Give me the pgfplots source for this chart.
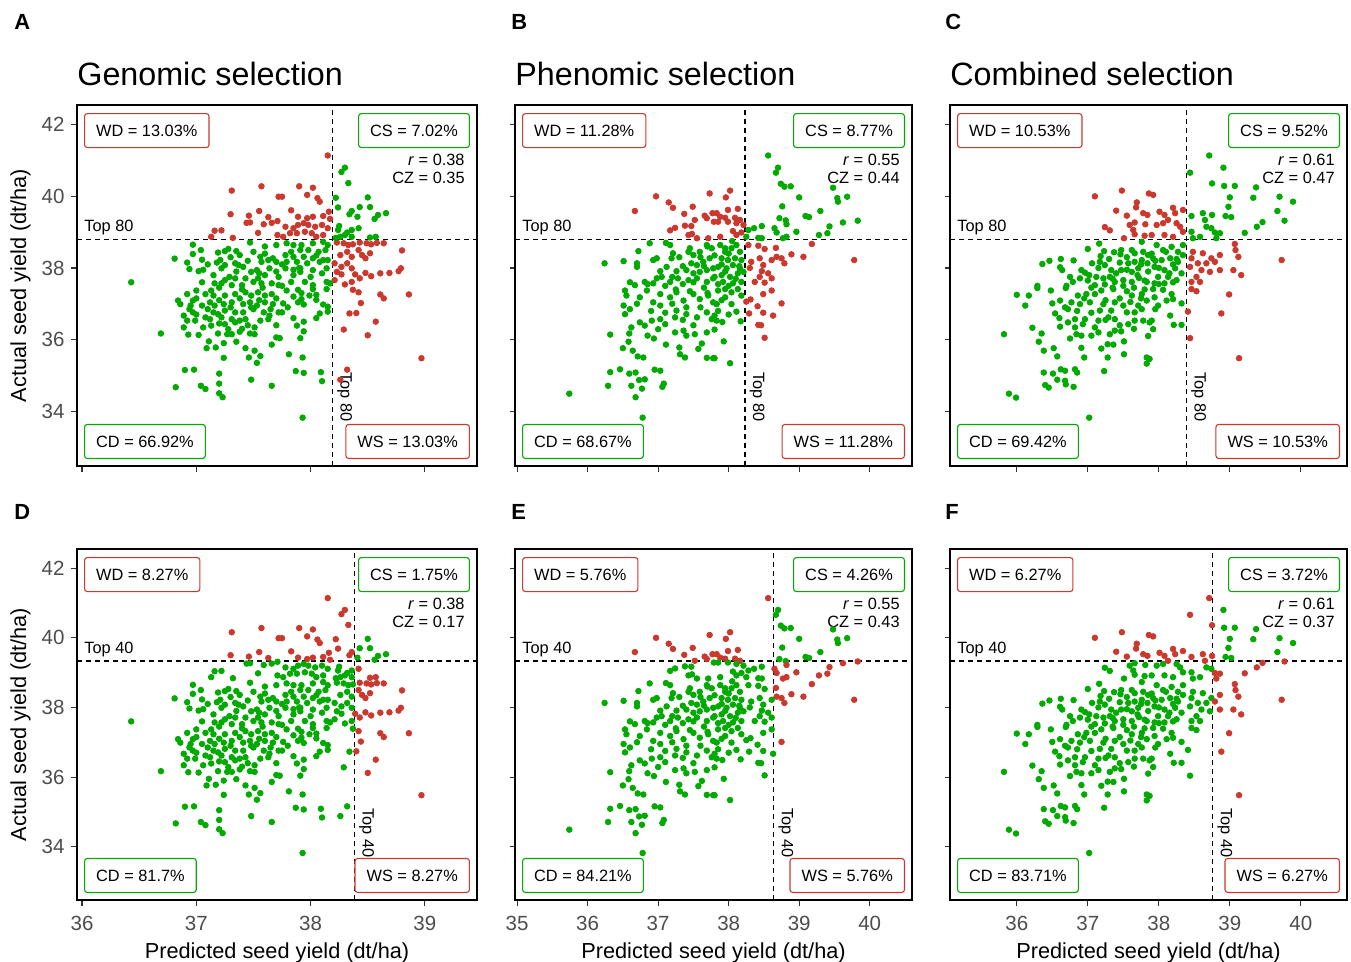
\documentclass[border=0pt]{standalone}
\usepackage{fontspec}
\setmainfont{Liberation Sans}
\usepackage{pgfplots}
\usepackage{pgfplotstable}
\pgfplotsset{compat=1.18}

\definecolor{ptgreen}{RGB}{0,170,0}
\definecolor{ptred}{RGB}{203,56,46}
\definecolor{ticklab}{RGB}{77,77,77}
\definecolor{tickcol}{RGB}{51,51,51}

\newcommand{\boxfont}{\fontsize{8.2}{9.8}\selectfont}

\tikzset{
  lbl/.style={font=\boxfont, fill=white, line width=0.55bp, rounded corners=1.4bp,
    inner xsep=5.8bp, minimum height=17bp},
}
\pgfplotsset{
  panel/.style={
    scale only axis, enlargelimits=false,
    ymin=32.47, ymax=42.55, ytick={34,36,38,40,42},
    anchor=north west,
    axis line style={black, line width=0.55bp},
    major tick style={tickcol, line width=0.55bp},
    tick align=outside, major tick length=2.75bp,
    xtick pos=left, ytick pos=left,
    tick label style={font=\fontsize{10.3}{12}\selectfont, text=ticklab},
    xticklabel style={yshift=-2bp},
    /pgf/number format/assume math mode=true,
    colormap={rg}{rgb255=(0,170,0) rgb255=(203,56,46)},
    point meta min=0, point meta max=1,
  },
  toprow/.style={height=180.5bp, xticklabels={}},
  botrow/.style={height=175.5bp},
  pts/.style 2 args={scatter, only marks, mark=*, mark size=1.4bp,
    point meta={(\thisrow{x}>#1)*(\thisrow{y}<#2)+(\thisrow{x}<#1)*(\thisrow{y}>#2)},
    scatter/use mapped color={draw=mapped color, fill=mapped color}},
  dashline/.style={black, line width=0.65bp, dash pattern=on 2.7bp off 1.8bp},
}

% #1 x threshold, #2 y threshold, #3 xmin, #4 xmax, #5 label
\newcommand{\thr}[5]{%
  \addplot[dashline] coordinates {(#1,32.47) (#1,42.55)};
  \addplot[dashline] coordinates {(#3,#2) (#4,#2)};
  \node[anchor=south west, font=\boxfont, inner xsep=3.5bp, inner ysep=2bp] at (axis cs:#3,#2) {#5};
  \node[rotate=-90, anchor=south, font=\boxfont, inner sep=2.2bp] at (axis cs:#1,34.40) {#5};
}
\newcommand{\boxes}[4]{%
  \node[lbl, draw=ptred, anchor=north west] at ([xshift=3.5bp,yshift=-4bp]rel axis cs:0,1) {WD = #1\%};
  \node[lbl, draw=ptgreen, anchor=north east] at ([xshift=-3.5bp,yshift=-4bp]rel axis cs:1,1) {CS = #2\%};
  \node[lbl, draw=ptgreen, anchor=south west] at ([xshift=3.5bp,yshift=3.5bp]rel axis cs:0,0) {CD = #3\%};
  \node[lbl, draw=ptred, anchor=south east] at ([xshift=-3.5bp,yshift=3.5bp]rel axis cs:1,0) {WS = #4\%};
}
\newcommand{\stats}[2]{%
  \node[anchor=east, font=\boxfont, inner sep=0pt] at ([xshift=-6bp,yshift=-27.5bp]rel axis cs:1,1) {\textit{r} = #1};
  \node[anchor=east, font=\boxfont, inner sep=0pt] at ([xshift=-6bp,yshift=-36.5bp]rel axis cs:1,1) {CZ = #2};
}

\pgfplotstableread{
x y
36.97 38.65
37.04 38.50
36.97 38.39
37.05 38.23
36.81 38.26
36.92 38.15
36.94 37.97
37.02 37.91
37.06 37.95
36.43 37.60
37.47 38.71
37.60 38.60
37.70 38.64
37.19 38.43
37.25 38.47
37.28 38.53
37.21 38.22
37.18 38.15
37.25 38.08
37.22 37.99
37.35 38.47
37.38 38.36
37.34 38.13
37.37 38.08
37.41 38.03
37.50 38.45
37.48 37.89
37.53 37.94
37.56 38.31
37.57 38.17
37.63 38.22
37.67 38.27
37.70 38.17
37.64 37.99
37.60 37.80
37.54 37.71
37.50 37.61
37.43 37.71
37.34 37.71
37.29 37.75
37.25 37.66
37.16 37.57
37.22 37.57
37.31 37.52
37.40 37.52
37.57 37.57
37.66 37.57
37.72 37.75
37.72 37.52
37.31 40.16
37.57 40.28
37.72 39.99
37.30 39.50
37.46 39.46
37.55 39.59
37.63 39.42
37.44 39.26
37.47 39.27
37.59 39.22
37.66 39.26
37.71 39.31
37.16 39.04
37.22 39.05
37.13 38.87
37.32 38.84
37.54 38.98
37.71 38.92
38.15 41.14
37.90 40.28
38.02 40.24
37.97 40.04
38.06 39.95
38.08 39.85
37.75 39.99
37.83 39.61
37.89 39.43
37.97 39.39
38.02 39.43
38.11 39.45
38.16 39.57
38.17 39.37
37.78 39.15
37.85 39.11
37.89 39.20
37.94 39.25
37.98 39.20
38.04 39.15
38.10 39.20
38.15 39.11
37.82 38.97
37.88 38.97
37.95 39.01
38.01 38.97
38.05 38.87
38.11 38.92
37.76 38.87
38.23 38.71
38.29 38.69
38.33 38.64
38.37 38.66
38.43 38.71
38.49 38.69
38.53 38.66
38.58 38.70
38.64 38.69
38.80 38.49
38.32 38.45
38.42 38.50
38.45 38.36
38.48 38.27
38.52 38.41
38.36 38.31
38.26 38.36
38.21 38.13
38.27 38.03
38.32 38.13
38.36 37.99
38.23 37.89
38.27 37.82
38.39 37.82
38.48 37.86
38.53 37.77
38.61 37.85
38.69 37.86
38.77 37.91
38.79 37.99
38.36 37.61
38.43 37.71
38.21 37.66
38.30 37.54
38.30 40.80
38.27 40.68
38.33 40.37
38.22 39.96
38.24 39.69
38.50 39.97
38.43 39.70
38.52 39.70
38.36 39.59
38.34 39.50
38.41 39.43
38.59 39.48
38.66 39.53
38.56 39.37
38.25 39.17
38.24 39.06
38.32 38.99
38.36 39.06
38.42 39.11
38.30 38.92
38.26 38.87
38.22 38.84
38.36 38.87
38.52 38.85
38.57 38.87
37.79 38.69
37.85 38.64
37.92 38.64
38.02 38.69
38.11 38.73
38.15 38.64
37.83 38.45
37.91 38.50
37.98 38.50
38.07 38.45
38.13 38.50
37.78 38.36
37.85 38.31
37.94 38.31
38.02 38.27
38.11 38.22
37.79 38.17
37.88 38.17
37.97 38.13
38.08 38.17
38.15 38.22
37.78 37.99
37.91 37.99
38.02 37.94
38.14 37.99
37.85 37.80
37.83 37.61
37.95 37.61
38.02 37.52
38.14 37.61
38.17 37.57
37.91 37.89
36.92 37.27
37.00 37.37
37.08 37.27
37.13 37.37
37.15 37.23
37.25 37.23
37.34 37.27
37.43 37.32
37.48 37.23
37.54 37.32
37.60 37.23
37.66 37.27
36.84 37.09
36.86 36.99
36.97 37.09
37.05 36.95
37.12 37.04
37.16 36.95
37.24 36.99
37.31 37.04
37.41 36.99
37.47 37.04
37.53 36.95
37.60 37.04
37.67 36.99
37.72 36.76
36.94 36.85
36.97 36.76
36.89 36.67
36.99 36.53
36.92 36.53
37.08 36.62
37.15 36.76
37.19 36.71
37.25 36.81
37.34 36.76
37.41 36.76
37.50 36.85
37.59 36.76
37.64 36.67
37.12 36.57
37.22 36.62
37.31 36.57
37.34 36.48
37.38 36.53
37.43 36.57
37.56 36.53
37.63 36.57
36.89 36.34
37.06 36.34
37.13 36.39
37.25 36.43
37.28 36.29
37.51 36.34
36.69 36.17
36.93 36.14
37.02 36.13
37.19 36.17
37.27 36.15
37.31 36.15
37.38 36.22
37.47 36.17
37.51 36.15
37.70 36.06
37.66 35.86
37.11 35.95
37.09 35.76
37.17 35.78
37.24 35.90
37.35 35.94
37.43 35.76
37.51 35.69
37.56 35.54
37.46 35.50
37.53 35.35
37.24 35.49
36.90 35.15
36.98 35.16
37.20 35.05
37.48 34.88
36.82 34.67
37.04 34.71
37.08 34.62
37.20 34.77
37.66 34.71
37.20 34.50
37.23 34.39
37.79 37.37
37.89 37.39
38.02 37.41
38.14 37.41
37.76 37.01
37.89 37.04
37.92 37.13
37.94 36.98
37.99 37.23
38.05 37.11
38.11 36.98
38.15 36.92
38.15 36.78
38.08 36.73
37.75 36.76
37.94 36.50
37.88 36.39
37.94 36.23
37.91 36.04
37.73 36.04
37.81 35.59
37.93 35.50
37.87 35.12
37.94 35.07
38.09 35.09
38.10 34.84
37.93 33.82
38.37 37.39
38.42 37.32
38.61 37.26
38.64 37.15
38.86 37.26
38.44 37.02
38.34 36.73
38.40 36.74
38.57 36.50
38.29 36.28
38.50 36.12
38.97 35.48
38.32 35.16
38.26 34.88
37.10 38.10
37.30 38.30
37.45 38.20
37.60 38.40
37.75 38.10
37.90 38.00
38.05 38.35
37.15 37.80
37.35 37.90
37.55 37.85
37.70 37.90
37.85 37.95
38.00 37.75
38.10 37.85
37.05 37.60
37.20 37.45
37.40 37.40
37.58 37.45
37.75 37.50
37.92 37.30
38.05 37.25
37.00 37.15
37.20 37.10
37.38 37.15
37.55 37.10
37.70 37.15
37.85 37.20
36.95 36.95
37.10 36.85
37.30 36.90
37.48 36.90
37.65 36.85
37.80 36.90
37.00 36.70
37.20 36.45
37.45 36.40
37.70 36.40
37.85 36.60
38.05 36.60
37.40 36.30
}\dataA

\pgfplotstableread{
x y
36.97 40.00
36.67 39.59
37.15 39.83
37.21 39.68
37.49 39.71
37.37 39.51
37.52 39.34
37.38 39.18
37.47 39.17
37.24 39.12
37.17 39.05
37.43 38.92
37.48 38.95
37.55 38.83
37.73 40.08
37.66 39.46
37.69 39.39
37.77 39.53
37.79 39.29
37.71 38.83
36.88 38.69
36.72 38.47
37.11 38.70
37.17 38.64
36.24 38.13
36.51 38.19
36.70 38.13
36.70 38.03
36.98 38.27
36.93 38.22
37.21 38.41
37.19 38.27
37.12 38.03
37.03 37.91
37.26 37.91
37.43 38.45
37.50 38.36
37.59 38.45
37.69 38.64
37.76 38.55
37.47 38.13
37.55 38.08
37.64 38.17
37.73 38.27
37.59 37.89
37.69 37.94
37.78 37.99
37.40 37.94
37.55 37.71
37.43 37.66
37.28 37.71
37.17 37.61
36.98 37.71
36.81 37.61
36.67 37.52
36.93 37.57
37.69 37.61
37.78 37.71
38.56 41.14
38.70 40.80
38.67 40.66
38.74 40.35
38.79 40.27
38.88 40.28
39.00 39.97
39.48 40.24
39.54 39.95
39.55 39.85
39.68 39.99
38.76 39.72
39.30 39.59
39.09 39.45
39.14 39.42
38.72 39.39
38.81 39.33
38.82 39.22
39.62 39.27
39.83 39.32
39.43 39.16
39.40 38.97
39.28 38.92
38.96 39.01
38.65 39.11
38.68 38.99
38.82 38.87
38.77 38.83
38.47 39.17
38.36 39.11
38.28 39.06
38.25 38.87
38.47 38.83
38.42 38.84
38.02 40.16
37.96 39.97
38.13 39.65
37.99 39.62
37.83 39.53
37.88 39.43
37.95 39.40
38.09 39.40
38.16 39.34
37.85 39.29
37.99 39.29
38.11 39.25
38.21 39.20
38.06 39.03
38.18 38.99
37.88 38.87
38.11 38.92
39.18 38.67
38.67 38.56
38.51 38.53
38.89 38.38
39.06 38.31
38.68 38.31
38.61 38.22
38.75 38.27
38.79 38.13
38.44 38.27
38.49 38.08
38.32 38.17
38.30 38.00
38.47 37.91
38.56 37.85
38.61 37.71
38.44 37.75
38.37 37.61
38.51 37.59
39.78 38.22
38.42 38.62
38.28 38.64
37.88 38.64
37.95 38.45
38.04 38.55
38.11 38.64
38.16 38.45
37.90 38.27
37.99 38.22
38.09 38.27
38.18 38.22
37.85 38.03
37.97 37.99
38.06 38.08
38.16 37.99
37.90 37.80
38.02 37.75
38.13 37.85
38.21 37.89
37.92 37.61
38.06 37.57
38.18 37.61
36.53 37.37
36.55 37.23
36.74 37.18
36.84 37.37
36.93 37.04
37.03 37.27
37.03 36.95
37.17 37.18
37.26 37.32
37.36 37.09
37.50 37.27
37.59 37.13
37.71 37.23
37.78 37.04
36.51 36.95
36.60 36.85
36.53 36.71
37.26 36.81
37.40 36.71
37.55 36.62
37.69 36.76
37.76 36.57
36.74 36.48
36.81 36.39
36.91 36.53
37.03 36.57
37.10 36.43
37.00 36.29
37.24 36.62
37.24 36.20
37.36 36.25
37.40 36.11
37.52 36.15
37.69 36.20
36.62 36.34
36.59 36.17
36.32 36.14
36.58 35.94
36.85 36.11
36.94 36.03
37.11 35.86
37.30 35.78
36.50 35.76
36.64 35.69
36.71 35.53
36.79 35.50
37.31 35.59
37.38 35.50
37.57 35.74
37.62 35.89
37.69 35.49
37.78 35.48
36.32 35.09
36.46 35.17
36.59 35.05
36.68 35.08
36.95 35.16
37.03 35.13
36.73 34.87
36.81 34.89
36.29 34.71
36.62 34.71
36.77 34.63
37.06 34.68
37.08 34.77
35.74 34.49
36.68 34.39
36.78 33.82
37.85 37.37
37.95 37.41
38.04 37.32
38.13 37.41
38.18 37.23
37.95 37.18
38.04 36.99
37.83 36.99
38.11 36.78
37.80 36.67
37.83 36.53
37.91 36.49
38.17 36.51
37.80 36.28
37.93 35.95
37.80 35.48
38.02 35.34
38.25 37.06
38.31 37.12
38.49 37.27
38.61 37.37
38.41 36.93
38.75 37.01
38.29 36.73
38.49 36.75
38.63 36.67
38.42 36.41
38.46 36.40
38.51 36.05
37.30 38.30
37.45 38.55
37.60 38.30
37.80 38.35
37.90 38.10
38.00 38.40
38.15 38.05
37.35 38.05
37.50 37.85
37.65 38.05
37.80 37.75
37.95 37.90
38.10 37.70
37.20 37.75
37.35 37.55
37.50 37.60
37.65 37.45
37.85 37.55
38.00 37.50
37.10 37.50
37.25 37.40
37.45 37.35
37.70 37.30
37.90 37.10
37.20 37.00
37.40 36.90
37.60 36.90
37.85 36.80
36.90 36.80
37.10 36.75
37.35 36.55
37.50 36.40
38.00 36.70
36.70 37.00
36.85 37.55
37.05 37.75
36.60 37.60
37.95 38.55
37.70 38.60
38.05 38.75
}\dataB

\pgfplotstableread{
x y
37.10 40.00
37.48 40.16
37.69 39.83
37.68 39.69
37.86 40.08
37.40 39.60
37.55 39.46
37.78 39.53
37.84 39.48
37.66 39.27
37.59 39.20
37.81 39.22
37.24 39.14
37.31 39.05
37.64 39.06
37.66 38.94
37.51 38.83
37.80 38.90
37.16 38.68
37.00 38.53
37.23 38.47
37.18 38.33
37.37 38.44
37.47 38.50
37.46 38.38
37.62 38.50
37.66 38.41
37.76 38.73
37.78 38.45
37.85 38.36
36.80 38.21
36.62 38.25
36.61 38.02
36.64 37.94
36.46 38.20
36.36 38.11
37.06 38.13
37.17 38.17
37.24 38.08
37.33 37.94
37.47 37.94
37.57 38.13
37.66 38.17
37.76 38.22
37.84 38.13
37.71 37.99
37.62 37.89
36.91 37.94
36.96 37.87
36.89 37.71
37.02 37.80
37.12 37.75
37.22 37.71
37.31 37.75
37.38 37.61
37.50 37.66
37.62 37.61
37.72 37.72
37.83 37.61
36.79 37.61
36.29 37.50
36.70 37.50
37.10 37.52
37.24 37.54
38.71 41.14
38.44 40.66
38.91 40.80
38.75 40.36
38.92 40.29
39.07 40.29
39.37 40.25
39.70 39.99
39.89 39.85
39.33 39.96
39.00 39.97
38.98 39.71
39.67 39.59
38.94 39.45
39.02 39.42
38.46 39.45
38.62 39.53
38.75 39.48
39.77 39.32
39.46 39.28
39.38 39.15
39.21 38.98
38.65 39.34
38.67 39.15
38.74 39.11
38.79 38.99
38.86 38.97
38.58 38.87
38.46 39.01
38.48 38.83
38.81 38.83
37.92 40.04
38.01 39.57
38.08 39.48
38.20 39.68
38.23 39.53
37.97 39.20
38.06 39.25
38.13 39.34
38.25 39.25
38.30 39.15
38.34 39.62
38.08 38.92
38.20 38.87
38.34 39.01
37.90 38.92
39.07 38.67
39.08 38.50
39.12 38.31
38.86 38.36
38.74 38.27
38.62 38.41
38.48 38.45
38.46 38.27
38.55 38.13
38.67 38.13
38.79 38.17
38.44 38.03
38.60 37.94
38.72 37.89
38.86 37.94
39.05 37.94
39.16 37.80
38.53 37.75
38.46 37.61
38.58 37.61
39.73 38.22
37.97 38.64
38.06 38.50
38.18 38.59
38.27 38.45
38.34 38.64
37.92 38.27
38.04 38.22
38.16 38.27
38.27 38.17
38.34 38.36
37.94 38.03
38.08 37.94
38.23 37.99
38.32 37.85
37.99 37.75
38.13 37.75
38.25 37.66
37.94 37.57
38.08 37.57
36.00 37.25
36.17 37.23
36.12 36.95
36.29 37.44
36.48 37.37
36.69 37.44
36.86 37.23
36.98 37.27
37.10 37.27
37.19 37.37
37.36 37.41
37.55 37.35
37.62 37.23
37.76 37.27
37.83 37.09
36.50 37.01
36.61 37.09
36.68 36.90
36.77 37.04
36.89 36.99
37.03 37.04
37.22 36.99
37.38 37.04
37.50 36.95
37.71 36.95
36.54 36.73
36.72 36.85
37.17 36.81
37.33 36.81
37.55 36.76
37.66 36.76
37.76 36.85
36.82 36.57
36.96 36.57
37.15 36.53
37.29 36.62
37.38 36.57
37.57 36.43
37.66 36.53
37.78 36.53
37.87 36.48
36.72 36.48
36.61 36.36
36.22 36.33
36.82 36.34
36.93 36.43
37.10 36.34
36.84 36.15
36.75 36.03
36.91 36.11
37.05 36.11
37.15 36.20
37.31 36.15
37.38 36.25
37.47 36.23
35.82 36.15
36.35 36.17
36.31 35.94
36.38 35.69
36.52 35.76
36.57 35.53
36.91 35.77
36.95 35.50
37.19 35.75
37.28 35.87
37.36 35.86
37.28 35.50
37.51 35.95
37.51 35.59
37.83 35.50
37.83 35.33
36.38 35.08
36.51 35.05
36.62 35.17
36.68 35.13
36.82 35.17
36.85 35.08
36.57 34.88
36.68 34.85
36.69 34.75
37.23 35.12
36.40 34.73
36.45 34.66
36.80 34.68
35.89 34.49
35.99 34.38
37.02 33.82
37.92 37.41
38.06 37.39
38.18 37.27
38.11 37.09
38.20 37.13
37.94 37.18
37.99 36.95
38.32 37.01
37.90 36.53
37.92 36.29
38.16 36.67
38.21 36.41
38.32 36.41
37.87 35.46
38.46 37.41
38.53 37.35
38.99 37.26
38.41 36.78
38.88 36.73
38.44 36.04
39.13 35.48
37.30 38.25
37.45 38.15
37.55 38.30
37.75 38.10
37.90 38.40
38.10 38.45
38.20 38.10
37.40 37.85
37.55 37.95
37.70 37.80
37.85 37.90
38.00 38.00
38.15 37.85
37.35 37.45
37.50 37.50
37.65 37.45
37.80 37.40
38.00 37.55
38.20 37.60
37.05 37.45
37.25 37.10
37.45 37.15
37.60 37.05
37.75 37.15
37.95 36.85
37.05 36.75
37.25 36.55
37.45 36.40
37.65 36.30
37.85 36.10
36.85 36.80
36.60 36.60
37.00 37.65
36.75 37.75
37.15 38.00
37.35 37.70
37.95 38.20
38.25 38.25
37.80 37.65
36.95 37.15
}\dataC

\begin{document}
\begin{tikzpicture}
\path[use as bounding box] (0,0) rectangle (675.5bp,-481bp);

% ---- top row: Top 80 ----
\begin{axis}[panel, toprow, at={(38.5bp,-52.5bp)}, width=200bp,
  xmin=35.956, xmax=39.456, xtick={36,37,38,39}]
\addplot[pts={38.19}{38.80}] table {\dataA};
\thr{38.19}{38.80}{35.956}{39.456}{Top 80}
\boxes{13.03}{7.02}{66.92}{13.03}
\stats{0.38}{0.35}
\end{axis}

\begin{axis}[panel, toprow, at={(257.5bp,-52.5bp)}, width=198.5bp,
  xmin=34.97, xmax=40.60, xtick={35,36,37,38,39,40}, yticklabels={}]
\addplot[pts={38.23}{38.80}] table {\dataB};
\thr{38.23}{38.80}{34.97}{40.60}{Top 80}
\boxes{11.28}{8.77}{68.67}{11.28}
\stats{0.55}{0.44}
\end{axis}

\begin{axis}[panel, toprow, at={(475bp,-52.5bp)}, width=198.5bp,
  xmin=35.06, xmax=40.65, xtick={36,37,38,39,40}, yticklabels={}]
\addplot[pts={38.39}{38.80}] table {\dataC};
\thr{38.39}{38.80}{35.06}{40.65}{Top 80}
\boxes{10.53}{9.52}{69.42}{10.53}
\stats{0.61}{0.47}
\end{axis}

% ---- bottom row: Top 40 ----
\begin{axis}[panel, botrow, at={(38.5bp,-274.5bp)}, width=200bp,
  xmin=35.956, xmax=39.456, xtick={36,37,38,39}]
\addplot[pts={38.38}{39.33}] table {\dataA};
\thr{38.384}{39.33}{35.956}{39.456}{Top 40}
\boxes{8.27}{1.75}{81.7}{8.27}
\stats{0.38}{0.17}
\end{axis}

\begin{axis}[panel, botrow, at={(257.5bp,-274.5bp)}, width=198.5bp,
  xmin=34.97, xmax=40.60, xtick={35,36,37,38,39,40}, yticklabels={}]
\addplot[pts={38.64}{39.33}] table {\dataB};
\thr{38.64}{39.33}{34.97}{40.60}{Top 40}
\boxes{5.76}{4.26}{84.21}{5.76}
\stats{0.55}{0.43}
\end{axis}

\begin{axis}[panel, botrow, at={(475bp,-274.5bp)}, width=198.5bp,
  xmin=35.06, xmax=40.65, xtick={36,37,38,39,40}, yticklabels={}]
\addplot[pts={38.76}{39.33}] table {\dataC};
\thr{38.76}{39.33}{35.06}{40.65}{Top 40}
\boxes{6.27}{3.72}{83.71}{6.27}
\stats{0.61}{0.37}
\end{axis}

% titles, panel letters, axis labels
\begin{scope}[every node/.style={inner sep=0pt}]
\node[anchor=base west, font=\fontsize{16.2}{19}\selectfont] at (38.5bp,-42.5bp) {Genomic selection};
\node[anchor=base west, font=\fontsize{16.2}{19}\selectfont] at (257.5bp,-42.5bp) {Phenomic selection};
\node[anchor=base west, font=\fontsize{16.2}{19}\selectfont] at (475bp,-42.5bp) {Combined selection};
\node[anchor=base west, font=\fontsize{11}{13}\selectfont\bfseries] at (7bp,-14.5bp) {A};
\node[anchor=base west, font=\fontsize{11}{13}\selectfont\bfseries] at (255.5bp,-14.5bp) {B};
\node[anchor=base west, font=\fontsize{11}{13}\selectfont\bfseries] at (472.5bp,-14.5bp) {C};
\node[anchor=base west, font=\fontsize{11}{13}\selectfont\bfseries] at (7bp,-259.5bp) {D};
\node[anchor=base west, font=\fontsize{11}{13}\selectfont\bfseries] at (255.5bp,-259.5bp) {E};
\node[anchor=base west, font=\fontsize{11}{13}\selectfont\bfseries] at (472.5bp,-259.5bp) {F};
\node[rotate=90, font=\fontsize{10.9}{13}\selectfont] at (10.3bp,-142.75bp) {Actual seed yield (dt/ha)};
\node[rotate=90, font=\fontsize{10.9}{13}\selectfont] at (10.3bp,-362.25bp) {Actual seed yield (dt/ha)};
\node[font=\fontsize{10.9}{13}\selectfont] at (138.5bp,-476.5bp) {Predicted seed yield (dt/ha)};
\node[font=\fontsize{10.9}{13}\selectfont] at (356.75bp,-476.5bp) {Predicted seed yield (dt/ha)};
\node[font=\fontsize{10.9}{13}\selectfont] at (574.25bp,-476.5bp) {Predicted seed yield (dt/ha)};
\end{scope}
\end{tikzpicture}
\end{document}
